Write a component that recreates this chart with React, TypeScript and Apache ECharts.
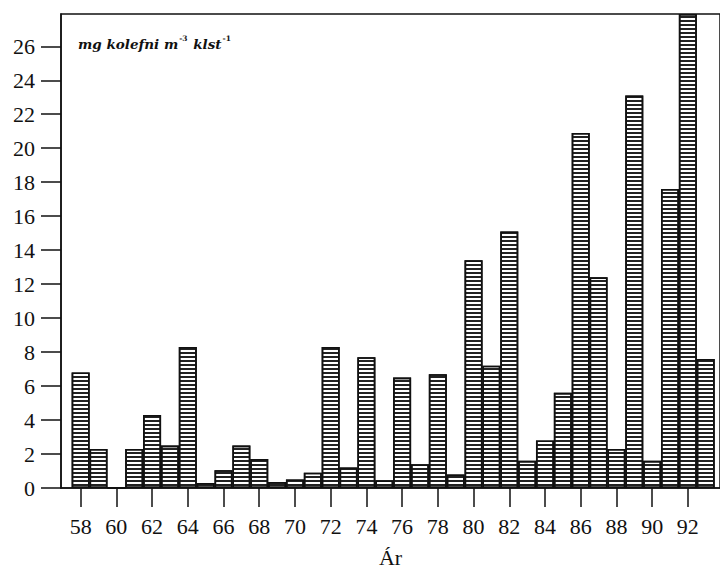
import React, { useEffect, useRef } from "react";
import * as echarts from "echarts";

const years = [58, 59, 60, 61, 62, 63, 64, 65, 66, 67, 68, 69, 70, 71, 72, 73, 74, 75, 76, 77, 78, 79, 80, 81, 82, 83, 84, 85, 86, 87, 88, 89, 90, 91, 92, 93];
const values = [6.8, 2.3, 0, 2.3, 4.3, 2.5, 8.3, 0.3, 1.05, 2.5, 1.7, 0.35, 0.5, 0.9, 8.3, 1.2, 7.7, 0.45, 6.5, 1.4, 6.7, 0.8, 13.4, 7.2, 15.1, 1.6, 2.8, 5.6, 20.9, 12.4, 2.3, 23.1, 1.6, 17.6, 27.9, 7.6];
const xTickLabels = [58, 60, 62, 64, 66, 68, 70, 72, 74, 76, 78, 80, 82, 84, 86, 88, 90, 92];
const yTickLabels = [0, 2, 4, 6, 8, 10, 12, 14, 16, 18, 20, 22, 24, 26];
const xAxisTitle = "Ár";

const FONT = "'Liberation Serif', 'DejaVu Serif', serif";
const NOTE_FONT = "'DejaVu Serif', 'Liberation Serif', serif";
const INK = "#111";

export default function App() {
  const ref = useRef<HTMLDivElement>(null);
  useEffect(() => {
    if (!ref.current) return;
    const chart = echarts.init(ref.current, undefined, { renderer: "svg" });
    chart.setOption({
      animation: false,
      backgroundColor: "#fff",
      textStyle: { fontFamily: FONT, color: INK },
      grid: {
        left: 61,
        top: 14,
        right: -6,
        bottom: 87,
        show: true,
        borderColor: INK,
        borderWidth: 1.5,
        backgroundColor: "transparent",
      },
      xAxis: {
        type: "value",
        min: 56.9,
        max: 93.8,
        splitLine: { show: false },
        axisLine: { show: true, lineStyle: { color: INK, width: 1.5 } },
        axisTick: {
          show: true,
          length: 19,
          inside: false,
          customValues: xTickLabels,
          lineStyle: { color: INK, width: 1.5 },
        },
        axisLabel: {
          customValues: xTickLabels,
          margin: 27,
          fontSize: 22,
          fontFamily: FONT,
          color: INK,
        },
        name: xAxisTitle,
        nameLocation: "middle",
        nameGap: 58,
        nameTextStyle: { fontSize: 22, fontFamily: FONT, color: INK },
      },
      yAxis: {
        type: "value",
        min: 0,
        max: 27.9,
        splitLine: { show: false },
        axisLine: { show: true, lineStyle: { color: INK, width: 1.5 } },
        axisTick: {
          show: true,
          length: 20,
          inside: false,
          customValues: yTickLabels,
          lineStyle: { color: INK, width: 1.5 },
        },
        axisLabel: {
          customValues: yTickLabels,
          margin: 26,
          fontSize: 22,
          fontFamily: FONT,
          color: INK,
        },
      },
      graphic: [
        {
          type: "text",
          left: 78,
          top: 34,
          style: {
            text: "{b|mg kolefni m}{s|-3}{b| klst}{s|-1}",
            fontFamily: NOTE_FONT,
            fill: INK,
            rich: {
              b: {
                fontSize: 13.5,
                fontStyle: "italic",
                fontWeight: "bold",
                fontFamily: NOTE_FONT,
                color: INK,
                verticalAlign: "bottom",
                lineHeight: 17,
              },
              s: {
                fontSize: 7.5,
                fontWeight: "bold",
                fontFamily: NOTE_FONT,
                color: INK,
                verticalAlign: "top",
                lineHeight: 17,
                padding: [0, 1, 8, 1],
              },
            },
          },
        },
      ],
      series: [
        {
          type: "bar",
          data: years.map((y, i) => [y, values[i]]),
          barWidth: 18,
          itemStyle: {
            color: "#fff",
            borderColor: INK,
            borderWidth: 1.6,
            decal: {
              symbol: "rect",
              symbolSize: 1,
              color: "#222",
              dashArrayX: [1, 0],
              dashArrayY: [1.7, 1.5],
              rotation: 0,
            },
          },
        },
      ],
    });
    return () => chart.dispose();
  }, []);
  return (
    <div
      ref={ref}
      style={{ position: "absolute", left: 0, top: 0, width: 720, height: 575 }}
    />
  );
}
